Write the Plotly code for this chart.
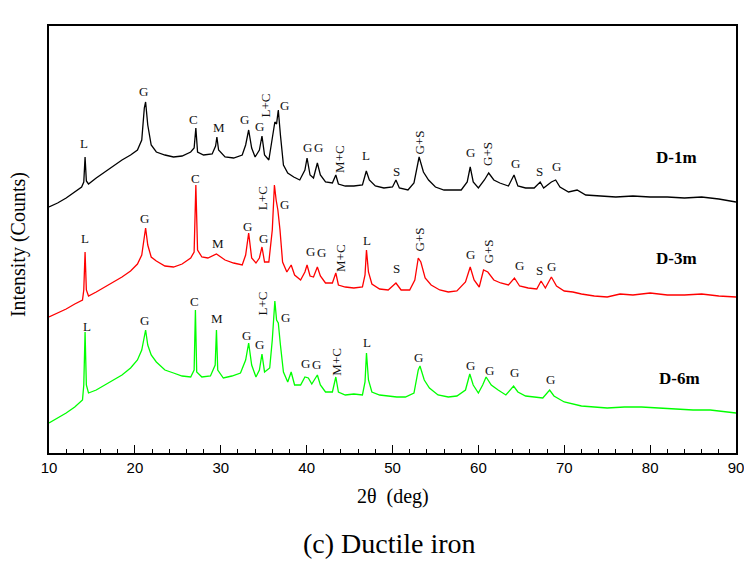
import plotly.graph_objects as go

# ---------------- data (2θ in deg, intensity in arbitrary counts, offset per sample) -------------
x_d1 = [10, 11, 12, 13, 13.8, 14.05, 14.2, 14.35, 14.6, 15.5, 16.5, 17.5, 18.5, 19.5, 20.3, 20.8, 21.1, 21.25,
        21.5, 21.9, 22.5, 23.5, 24.5, 25.5, 26.5, 26.9, 27.1, 27.3, 28, 29, 29.4, 29.55, 29.75, 30.5, 31.5, 32.5,
        32.9, 33.25, 33.6, 34, 34.5, 34.8, 35.1, 35.6, 36.0, 36.3, 36.5, 36.7, 36.95, 37.3, 37.8, 38.5, 39.2,
        39.8, 40.05, 40.4, 40.8, 41.25, 41.6, 42.2, 43, 43.4, 43.7, 44.5, 45.5, 46.5, 46.95, 47.3, 48, 49, 50,
        50.4, 50.8, 51.8, 52.5, 53.1, 53.6, 54.2, 55, 56, 57, 58, 58.7, 59.05, 59.4, 60, 60.7, 61.2, 61.8, 62.5,
        63.5, 64.15, 64.6, 65.5, 66.5, 67.2, 67.6, 68.5, 69, 69.5, 70.5, 71.5, 72.5, 74, 76, 78, 80, 82, 84, 86,
        88, 90]
y_d1 = [246, 250, 255, 261, 266, 271, 296, 272, 269, 275, 281, 287, 293, 298, 303, 313, 345, 351,
        328, 308, 301, 298, 296, 297, 301, 305, 325, 301, 298, 299, 307, 316, 303, 296, 295, 298,
        308, 323, 305, 296, 303, 317, 298, 293, 313, 331, 329, 343, 318, 288, 280, 276, 273,
        283, 295, 278, 275, 290, 278, 271, 270, 278, 269, 267, 267, 268, 282, 273, 267, 265, 266,
        273, 265, 263, 270, 296, 281, 273, 266, 263, 263, 263, 271, 286, 271, 265, 273, 280, 273, 270,
        267, 278, 267, 265, 265, 271, 265, 271, 273, 266, 261, 263, 258, 257, 256, 257, 256, 256, 255, 256,
        254, 251]

x_d3 = [10, 11, 12, 13, 13.9, 14.05, 14.2, 14.35, 14.6, 15.5, 16.5, 17.5, 18.5, 19.5, 20.3, 20.8, 21.1, 21.25,
        21.5, 21.9, 22.5, 23.5, 24.5, 25.5, 26.5, 26.9, 27.1, 27.3, 27.8, 28.5, 29.5, 30.5, 31.5, 32.5, 32.9,
        33.25, 33.6, 34.1, 34.5, 34.8, 35.1, 35.6, 36.0, 36.25, 36.45, 36.65, 36.9, 37.2, 37.7, 38.2, 38.6,
        39.3, 39.8, 40.05, 40.4, 40.8, 41.25, 41.6, 42.2, 43, 43.4, 43.7, 44.5, 45.5, 46.5, 46.8, 46.97, 47.2,
        47.6, 48.5, 49.5, 50.4, 51, 52, 52.6, 53.0, 53.3, 53.8, 54.5, 55.5, 56.5, 57.5, 58.5, 59.05, 59.5,
        60.1, 60.6, 61.1, 61.8, 62.6, 63.5, 64.2, 64.8, 65.8, 66.8, 67.3, 67.8, 68.5, 69.1, 70, 71, 72, 73.5,
        75, 76.5, 78, 80, 82, 84, 86, 88, 90]
y_d3 = [136, 140, 144, 149, 153, 163, 201, 163, 157, 161, 166, 171, 176, 182, 189, 198, 218, 225,
        208, 196, 192, 187, 186, 189, 195, 201, 268, 203, 196, 195, 199, 193, 190, 188, 198,
        220, 195, 190, 195, 206, 191, 191, 223, 268, 253, 243, 223, 191, 181, 188, 178,
        173, 181, 188, 177, 176, 186, 177, 170, 170, 180, 168, 166, 165, 166, 178, 203, 181,
        169, 164, 163, 170, 163, 163, 173, 195, 191, 175, 168, 163, 161, 162, 171, 186, 173,
        166, 183, 181, 173, 170, 168, 175, 167, 165, 164, 172, 165, 176, 167, 162, 161, 159, 157,
        156, 159, 158, 160, 158, 158, 159, 157, 156]

x_d6 = [10, 11, 12, 13, 13.9, 14.05, 14.2, 14.35, 14.6, 15.5, 16.5, 17.5, 18.5, 19.5, 20.3, 20.8, 21.1, 21.25,
        21.5, 21.9, 22.5, 23.5, 24.5, 25.5, 26.5, 26.9, 27.05, 27.2, 27.8, 28.8, 29.35, 29.5, 29.65, 30.3,
        31.3, 32.3, 32.9, 33.25, 33.6, 34.1, 34.5, 34.8, 35.1, 35.7, 36.0, 36.3, 36.5, 36.7, 36.95, 37.3,
        37.8, 38.2, 38.6, 39.3, 39.8, 40.2, 40.6, 41.25, 41.6, 42.2, 43, 43.4, 43.7, 44.5, 45.5, 46.5, 46.8,
        46.97, 47.2, 47.6, 48.5, 49.5, 50.5, 51.5, 52.5, 53.0, 53.2, 53.7, 54.3, 55.3, 56.5, 57.5, 58.5, 59.0,
        59.4, 60.0, 60.5, 60.9, 61.5, 62.3, 63.2, 64.1, 64.6, 65.5, 66.5, 67.5, 68.3, 68.8, 70, 71, 72, 73.5,
        75, 77, 79, 81, 83, 85, 87, 89, 90]
y_d6 = [30, 35, 40, 46, 53, 68, 121, 68, 60, 63, 68, 73, 78, 85, 93, 103, 118, 123,
        108, 98, 91, 83, 80, 77, 76, 83, 143, 81, 76, 77, 88, 123, 83, 75,
        77, 80, 93, 110, 88, 76, 83, 99, 81, 85, 113, 152, 133, 130, 108, 81,
        71, 81, 68, 68, 76, 75, 69, 78, 68, 61, 61, 76, 61, 58, 59, 58, 71,
        100, 73, 61, 58, 57, 56, 56, 60, 83, 87, 73, 65, 58, 56, 57, 63, 79,
        68, 60, 68, 76, 68, 63, 58, 67, 61, 57, 56, 55, 63, 57, 51, 49, 47, 46,
        45, 46, 46, 45, 44, 43, 43, 41, 40]

series_names = ["D-1m", "D-3m", "D-6m"]
series_colors = ["#000000", "#ff0000", "#00ff00"]
series_label_pos = [(83.1, 296), (83.1, 195), (83.4, 75)]

# peak labels: text, 2θ, intensity position
lab_d1_text = ["L", "G", "C", "M", "G", "G", "L+C", "G", "G", "G", "M+C", "L", "S", "G+S", "G", "G+S", "G", "S", "G"]
lab_d1_x = [14.06, 21.06, 26.85, 29.8, 32.8, 34.47, 35.21, 37.46, 40.06, 41.39, 43.76, 46.87, 50.49, 53.13, 59.12, 60.99, 64.29, 67.08, 69.07]
lab_d1_y = [310, 362, 334, 326, 334, 327, 348, 348, 306, 306, 294, 298, 282, 311, 301, 299, 290, 282, 287]

lab_d3_text = ["L", "G", "C", "M", "G", "G", "L+C", "G", "G", "G", "M+C", "L", "S", "G+S", "G", "G+S", "G", "S", "G"]
lab_d3_x = [14.14, 21.17, 27.05, 29.68, 33.11, 35.01, 34.82, 37.46, 40.46, 41.74, 43.88, 47.06, 50.49, 53.13, 59.04, 61.17, 64.79, 67.12, 68.57]
lab_d3_y = [215, 235, 275, 210, 227, 215, 255, 249, 202, 201, 195, 213, 185, 214, 199, 202, 188, 183, 187]

lab_d6_text = ["L", "G", "C", "M", "G", "G", "L+C", "G", "G", "G", "M+C", "L", "G", "G", "G", "G", "G"]
lab_d6_x = [14.45, 21.17, 26.89, 29.62, 33.0, 34.47, 34.86, 37.58, 39.88, 41.16, 43.38, 47.06, 53.01, 59.04, 61.29, 64.2, 68.45]
lab_d6_y = [127, 133, 152, 135, 118, 109, 150, 136, 90, 89, 91, 111, 96, 88, 83, 81, 74]

x_ticks = [10, 20, 30, 40, 50, 60, 70, 80, 90]

# ---------------- figure -------------
fig = go.Figure()
for xs, ys, nm, col in zip([x_d1, x_d3, x_d6], [y_d1, y_d3, y_d6], series_names, series_colors):
    fig.add_trace(go.Scatter(x=xs, y=ys, mode="lines", name=nm,
                             line=dict(color=col, width=1.3), showlegend=False))

annotations = []
serif = "Liberation Serif, Times New Roman, serif"
for texts, xs, ys in [(lab_d1_text, lab_d1_x, lab_d1_y),
                      (lab_d3_text, lab_d3_x, lab_d3_y),
                      (lab_d6_text, lab_d6_x, lab_d6_y)]:
    for t, xv, yv in zip(texts, xs, ys):
        rot = -90 if "+" in t else 0
        annotations.append(dict(x=xv, y=yv, xref="x", yref="y", text=t, showarrow=False,
                                textangle=rot, font=dict(family=serif, size=13, color="#111"),
                                xanchor="center", yanchor="middle"))

for nm, (xv, yv) in zip(series_names, series_label_pos):
    annotations.append(dict(x=xv, y=yv, xref="x", yref="y", text="<b>" + nm + "</b>", showarrow=False,
                            font=dict(family=serif, size=17, color="#000"),
                            xanchor="center", yanchor="middle"))

# axis titles and caption
annotations.append(dict(x=0.5, y=-0.103, xref="paper", yref="paper", text="2θ  (deg)", showarrow=False,
                        font=dict(family=serif, size=20, color="#000"), xanchor="center", yanchor="middle"))
annotations.append(dict(x=-0.0451, y=0.487, xref="paper", yref="paper", text="Intensity (Counts)",
                        showarrow=False, textangle=-90,
                        font=dict(family=serif, size=20, color="#000"), xanchor="center", yanchor="middle"))
annotations.append(dict(x=0.495, y=-0.211, xref="paper", yref="paper", text="(c) Ductile iron", showarrow=False,
                        font=dict(family=serif, size=28, color="#000"), xanchor="center", yanchor="middle"))

fig.update_layout(
    width=744, height=562,
    margin=dict(l=49, r=8, t=26, b=109, autoexpand=False),
    paper_bgcolor="white", plot_bgcolor="white",
    annotations=annotations,
    xaxis=dict(range=[10, 90], tickvals=x_ticks, ticktext=[str(v) for v in x_ticks],
               ticks="inside", ticklen=8, tickwidth=1.3, tickcolor="#000",
               minor=dict(dtick=2, ticks="inside", ticklen=4, tickwidth=1.1, tickcolor="#000"),
               showline=True, linecolor="#000", linewidth=1.5, mirror=True,
               showgrid=False, zeroline=False, automargin=False, ticklabeloverflow="allow",
               tickfont=dict(family="Liberation Sans, Arial, sans-serif", size=15, color="#000")),
    yaxis=dict(range=[0, 427], showticklabels=False, ticks="", showline=True, linecolor="#000",
               linewidth=1.5, mirror=True, showgrid=False, zeroline=False, automargin=False),
)

fig.write_html("out.html")
